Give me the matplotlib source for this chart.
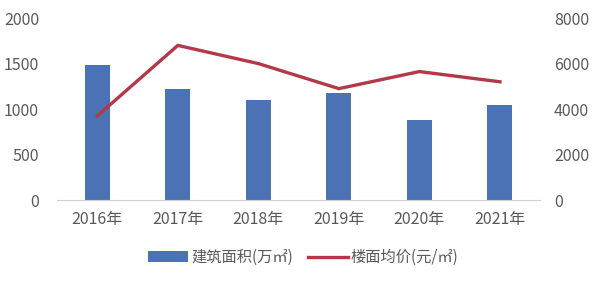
import matplotlib
matplotlib.use("Agg")
import matplotlib.pyplot as plt

plt.rcParams['font.family'] = ['Noto Sans CJK SC', 'DejaVu Sans']

years = ["2016年", "2017年", "2018年", "2019年", "2020年", "2021年"]
area = [1480, 1220, 1100, 1180, 880, 1050]        # 建筑面积(万㎡)
price = [3700, 6800, 6000, 4900, 5650, 5200]      # 楼面均价(元/㎡)

text_color = "#595959"
bar_color = "#4a72b5"
line_color = "#b3384a"

fig = plt.figure(figsize=(6.07, 2.83), dpi=100)
ax = fig.add_axes([0.094, 0.293, 0.796, 0.643])
x = range(len(years))
bars = ax.bar(x, area, width=0.31, color=bar_color, label="建筑面积(万㎡)", zorder=2)
ax.set_ylim(0, 2000)
ax.set_yticks([0, 500, 1000, 1500, 2000])
ax.set_xlim(-0.5, 5.5)
ax.set_xticks(list(x))
ax.set_xticklabels(years)

ax2 = ax.twinx()
line, = ax2.plot(x, price, color=line_color, lw=2.4, label="楼面均价(元/㎡)", zorder=3)
ax2.set_ylim(0, 8000)
ax2.set_yticks([0, 2000, 4000, 6000, 8000])

for a in (ax, ax2):
    for s in ("top", "left", "right", "bottom"):
        a.spines[s].set_visible(False)
    a.tick_params(length=0, labelsize=11.5, colors=text_color)
ax.spines["bottom"].set_visible(True)
ax.spines["bottom"].set_color("#d0d0d0")
ax.tick_params(axis="y", pad=13)
ax.tick_params(axis="x", pad=8)
ax2.tick_params(axis="y", pad=10)

fig.legend([bars, line], ["建筑面积(万㎡)", "楼面均价(元/㎡)"], loc="center",
           bbox_to_anchor=(0.5, 0.09), ncol=2, frameon=False, fontsize=11,
           labelcolor=text_color, handlelength=2.6, handletextpad=0.2, columnspacing=1.0)

fig.savefig("out.png", dpi=100)
